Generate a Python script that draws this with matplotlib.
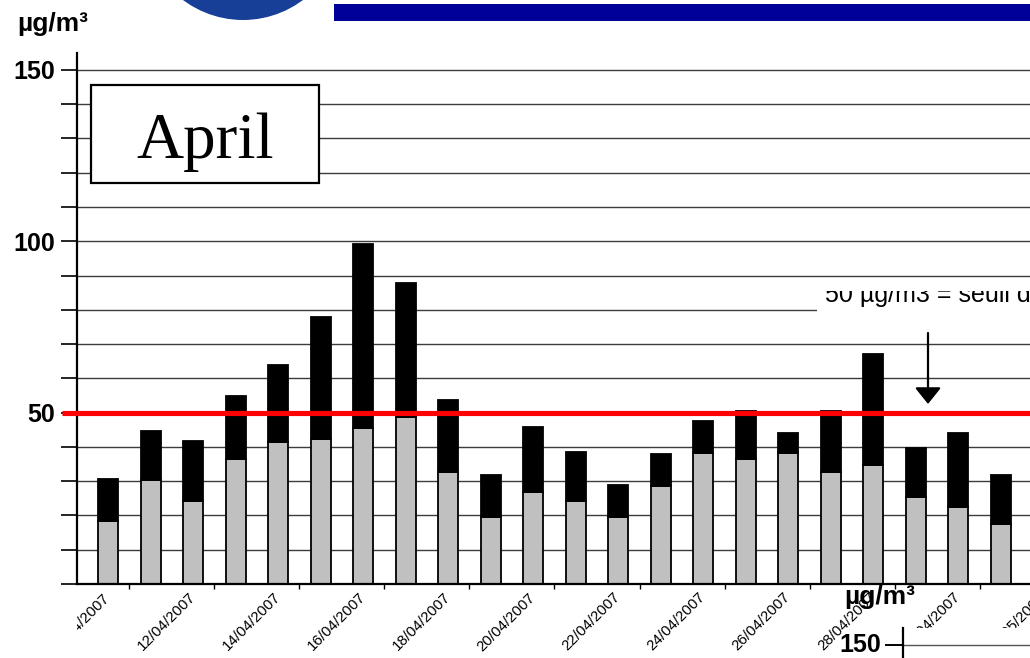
import matplotlib
matplotlib.use('Agg')
import numpy as np
import matplotlib.pyplot as plt
from matplotlib.patches import Rectangle, Ellipse
from matplotlib.lines import Line2D
from matplotlib.transforms import Bbox, TransformedBbox
from matplotlib.ticker import FixedLocator, MultipleLocator

# ---------------- data ----------------
dates = ['10/04/2007', '11/04/2007', '12/04/2007', '13/04/2007', '14/04/2007',
         '15/04/2007', '16/04/2007', '17/04/2007', '18/04/2007', '19/04/2007',
         '20/04/2007', '21/04/2007', '22/04/2007', '23/04/2007', '24/04/2007',
         '25/04/2007', '26/04/2007', '27/04/2007', '28/04/2007', '29/04/2007',
         '30/04/2007', '01/05/2007']
pm_lower = [18.3, 30.3, 24.2, 36.4, 41.3, 42.4, 45.5, 48.6, 32.6, 19.6, 26.7,
            24.2, 19.6, 28.5, 38.3, 36.4, 38.3, 32.6, 34.6, 25.5, 22.5, 17.5]
pm_total = [30.6, 44.6, 41.6, 54.9, 63.9, 78.0, 99.2, 87.8, 53.8, 31.8, 45.7,
            38.6, 28.8, 37.8, 47.7, 50.6, 44.0, 50.6, 67.1, 39.8, 44.0, 31.8]
tick_labels = ['10/04/2007', '12/04/2007', '14/04/2007', '16/04/2007',
               '18/04/2007', '20/04/2007', '22/04/2007', '24/04/2007',
               '26/04/2007', '28/04/2007', '30/04/2007', '02/05/2007']
y_major = [50, 100, 150]
y_major_labels = ['50', '100', '150']
threshold = 50
unit = 'µg/m³'
panel_title = 'April'
threshold_text = "50 µg/m3 = seuil d'information"

# ---------------- layout helpers ----------------
W, H = 1030, 658
fig = plt.figure(figsize=(W / 100, H / 100), dpi=100)
fig.patch.set_facecolor('white')


def fx(px):
    return px / W


def fy(py):
    return 1 - py / H


SANS = 'Liberation Sans'
x0_px, y0_px, ytop_px = 77, 584, 53
step_px = 42.52
first_px = 108
ppu = 3.427
xmin = -(first_px - x0_px) / step_px
xmax = 22.4
ax = fig.add_axes([fx(x0_px), fy(y0_px), (xmax - xmin) * step_px / W,
                   (y0_px - ytop_px) / H])
ax.set_xlim(xmin, xmax)
ax.set_ylim(0, (y0_px - ytop_px) / ppu)

x = np.arange(len(dates))
lower = np.array(pm_lower)
upper = np.array(pm_total) - lower

ax.set_axisbelow(True)
ax.bar(x, lower, width=0.47, color='#c0c0c0', edgecolor='black', linewidth=1.3, zorder=2)
ax.bar(x, upper, bottom=lower, width=0.47, color='black', edgecolor='black',
       linewidth=1.3, zorder=2)

# threshold line
ax.plot([xmin - 0.35, xmax], [threshold, threshold], color='#ff0000', lw=3.7,
        solid_capstyle='butt', clip_on=False, zorder=4)

# y axis
ax.yaxis.set_major_locator(FixedLocator(y_major))
ax.set_yticklabels(y_major_labels)
ax.yaxis.set_minor_locator(MultipleLocator(10))
ax.tick_params(axis='y', which='both', direction='out', length=11.5, width=1.2,
               pad=4.5, colors='black')
for lab in ax.get_yticklabels():
    lab.set_fontfamily(SANS)
    lab.set_fontweight('bold')
    lab.set_fontsize(18)
ax.grid(True, axis='y', which='both', color='#3c3c3c', linewidth=1.0)

# x axis
tick_pos = np.arange(len(tick_labels)) * 2
ax.set_xticks(tick_pos)
ax.set_xticklabels(tick_labels, rotation=45, ha='right', va='center',
                   rotation_mode='anchor', fontfamily=SANS, fontsize=10.8)
ax.set_xticks(np.arange(0.5, xmax, 2), minor=True)
ax.tick_params(axis='x', which='major', length=0, pad=8)
ax.tick_params(axis='x', which='minor', direction='out', length=3.6, width=1.0)
clip_labels = TransformedBbox(Bbox([[fx(x0_px), 0], [1, 1]]), fig.transFigure)
for lab in ax.get_xticklabels():
    lab.set_clip_box(clip_labels)
    lab.set_clip_on(True)

for s in ['top', 'right']:
    ax.spines[s].set_visible(False)
for s in ['left', 'bottom']:
    ax.spines[s].set_linewidth(1.6)
    ax.spines[s].set_color('black')
    ax.spines[s].set_zorder(3)

# unit label top-left
fig.text(fx(17), fy(24), unit, family=SANS, weight='bold', size=19,
         ha='left', va='center')

# "April" box
fig.add_artist(Rectangle((fx(91), fy(183)), (319 - 91) / W, (183 - 85) / H,
                         transform=fig.transFigure, facecolor='white',
                         edgecolor='black', linewidth=1.6, zorder=3))
fig.text(fx(205), fy(158), panel_title, family='Liberation Serif', size=47,
         ha='center', va='baseline', zorder=4)

# threshold note (clipped box)
fig.add_artist(Rectangle((fx(817), fy(328)), (W - 817) / W, (328 - 291) / H,
                         transform=fig.transFigure, facecolor='white',
                         edgecolor='none', zorder=3))
note = fig.text(fx(825), fy(302), threshold_text, family=SANS, size=18,
                ha='left', va='baseline', zorder=4)
note.set_clip_box(TransformedBbox(Bbox([[fx(817), fy(328)], [1, fy(291)]]),
                                  fig.transFigure))
note.set_clip_on(True)

# arrow
ax.annotate('', xy=(fx(928), fy(404)), xytext=(fx(928), fy(333)),
            xycoords='figure fraction', textcoords='figure fraction',
            arrowprops=dict(arrowstyle='-|>,head_width=0.4,head_length=0.5',
                            color='black', lw=1.6, mutation_scale=20,
                            shrinkA=0, shrinkB=0), zorder=5)

# overlapping second chart (bottom-right)
fig.add_artist(Rectangle((fx(895), 0), (W - 895) / W, (H - 628) / H,
                         transform=fig.transFigure, facecolor='white',
                         edgecolor='none', zorder=5))
fig.add_artist(Line2D([fx(903), fx(W)], [fy(645), fy(645)], transform=fig.transFigure,
                      color='#555555', lw=1.0, zorder=6))
fig.add_artist(Line2D([fx(886), fx(903)], [fy(645), fy(645)], transform=fig.transFigure,
                      color='black', lw=1.4, zorder=6))
fig.add_artist(Line2D([fx(903), fx(903)], [fy(628), 0], transform=fig.transFigure,
                      color='black', lw=1.6, zorder=6))
fig.text(fx(881), fy(645), '150', family=SANS, weight='bold', size=18,
         ha='right', va='center', zorder=7)
fig.text(fx(844), fy(597), unit, family=SANS, weight='bold', size=19,
         ha='left', va='center', zorder=7)

# slide header decorations
fig.add_artist(Ellipse((fx(243), fy(-80)), 200 / W, 200 / H,
                       transform=fig.transFigure, facecolor='#173f98',
                       edgecolor='none', zorder=8))
fig.add_artist(Rectangle((fx(334), fy(20.5)), (W - 334) / W, 16.5 / H,
                         transform=fig.transFigure, facecolor='#000099',
                         edgecolor='none', zorder=8))

fig.savefig('out.png', dpi=100, facecolor='white')
